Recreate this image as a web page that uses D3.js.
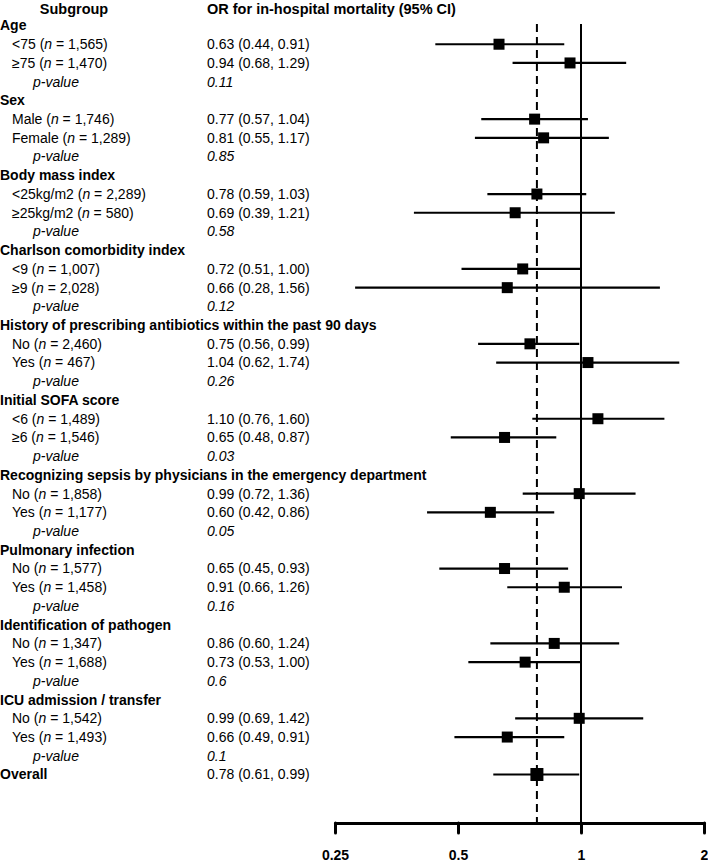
<!DOCTYPE html>
<html>
<head>
<meta charset="utf-8">
<script src="https://cdn.jsdelivr.net/npm/d3@7"></script>
<style>
  body { margin: 0; background: #fff; }
  svg { display: block; font-family: "Liberation Sans", Arial, sans-serif; }
</style>
</head>
<body>
<div class="chart"></div>
<script>
const width = 708, height = 866;

// data
const groups = ['Age', 'Sex', 'Body mass index', 'Charlson comorbidity index',
  'History of prescribing antibiotics within the past 90 days', 'Initial SOFA score',
  'Recognizing sepsis by physicians in the emergency department', 'Pulmonary infection',
  'Identification of pathogen', 'ICU admission / transfer'];
const subLabels = [['<75', '≥75'], ['Male', 'Female'], ['<25kg/m2', '≥25kg/m2'], ['<9', '≥9'],
  ['No', 'Yes'], ['<6', '≥6'], ['No', 'Yes'], ['No', 'Yes'], ['No', 'Yes'], ['No', 'Yes']];
const nValues = [['1,565', '1,470'], ['1,746', '1,289'], ['2,289', '580'], ['1,007', '2,028'],
  ['2,460', '467'], ['1,489', '1,546'], ['1,858', '1,177'], ['1,577', '1,458'],
  ['1,347', '1,688'], ['1,542', '1,493']];
const orValues = [[0.63, 0.94], [0.77, 0.81], [0.78, 0.69], [0.72, 0.66], [0.75, 1.04],
  [1.10, 0.65], [0.99, 0.60], [0.65, 0.91], [0.86, 0.73], [0.99, 0.66]];
const lowerCI = [[0.44, 0.68], [0.57, 0.55], [0.59, 0.39], [0.51, 0.28], [0.56, 0.62],
  [0.76, 0.48], [0.72, 0.42], [0.45, 0.66], [0.60, 0.53], [0.69, 0.49]];
const upperCI = [[0.91, 1.29], [1.04, 1.17], [1.03, 1.21], [1.00, 1.56], [0.99, 1.74],
  [1.60, 0.87], [1.36, 0.86], [0.93, 1.26], [1.24, 1.00], [1.42, 0.91]];
const pValues = ['0.11', '0.85', '0.58', '0.12', '0.26', '0.03', '0.05', '0.16', '0.6', '0.1'];
const overall = {label: 'Overall', or: 0.78, lo: 0.61, hi: 0.99};
const xTicks = [0.25, 0.5, 1, 2];

// flatten into rows
const rows = [];
groups.forEach((g, i) => {
  rows.push({type: 'group', label: g});
  subLabels[i].forEach((s, j) => {
    rows.push({type: 'sub', label: s, n: nValues[i][j],
      or: orValues[i][j], lo: lowerCI[i][j], hi: upperCI[i][j]});
  });
  rows.push({type: 'p', p: pValues[i]});
});
rows.push({type: 'overall', label: overall.label, or: overall.or, lo: overall.lo, hi: overall.hi});
rows.forEach((r, i) => r.idx = i);

const fmt = d3.format('.2f');

let svg = d3.select('.chart').append('svg')
  .attr('width', width)
  .attr('height', height);

let x = d3.scaleLog().base(2)
  .domain([0.25, 2])
  .range([335, 704]);

let y = d3.scaleLinear()
  .domain([0, rows.length - 1])
  .range([25.5, 774.5]);

const axisY = 823;
const lineTop = 24;

// headers
svg.append('text')
  .attr('x', 74).attr('y', 9).attr('dy', '0.35em')
  .attr('text-anchor', 'middle')
  .attr('font-size', 14.5).attr('font-weight', 700)
  .text('Subgroup');

svg.append('text')
  .attr('x', 207).attr('y', 9).attr('dy', '0.35em')
  .attr('font-size', 14.5).attr('font-weight', 700)
  .text('OR for in-hospital mortality (95% CI)');

// left text
let labels = svg.append('g').attr('font-size', 14);

labels.selectAll('text.lab')
  .data(rows)
  .join('text')
  .attr('class', 'lab')
  .attr('x', d => d.type === 'sub' ? 12 : d.type === 'p' ? 33 : 0)
  .attr('y', d => y(d.idx))
  .attr('dy', '0.35em')
  .attr('font-weight', d => (d.type === 'group' || d.type === 'overall') ? 700 : 400)
  .attr('font-style', d => d.type === 'p' ? 'italic' : 'normal')
  .each(function(d) {
    const t = d3.select(this);
    if (d.type === 'sub') {
      t.append('tspan').text(d.label + ' (');
      t.append('tspan').attr('font-style', 'italic').text('n');
      t.append('tspan').text(' = ' + d.n + ')');
    } else if (d.type === 'p') {
      t.text('p-value');
    } else {
      t.text(d.label);
    }
  });

labels.selectAll('text.val')
  .data(rows.filter(d => d.type !== 'group'))
  .join('text')
  .attr('class', 'val')
  .attr('x', 207)
  .attr('y', d => y(d.idx))
  .attr('dy', '0.35em')
  .attr('font-style', d => d.type === 'p' ? 'italic' : 'normal')
  .text(d => d.type === 'p' ? d.p : `${fmt(d.or)} (${fmt(d.lo)}, ${fmt(d.hi)})`);

// reference lines
svg.append('line')
  .attr('x1', x(1)).attr('x2', x(1))
  .attr('y1', lineTop).attr('y2', axisY)
  .attr('stroke', 'black').attr('stroke-width', 2);

svg.append('line')
  .attr('x1', x(overall.or)).attr('x2', x(overall.or))
  .attr('y1', lineTop).attr('y2', axisY)
  .attr('stroke', 'black').attr('stroke-width', 2)
  .attr('stroke-dasharray', '8,5');

// CI lines and squares
let marks = rows.filter(d => d.or !== undefined);

svg.append('g')
  .selectAll('line')
  .data(marks)
  .join('line')
  .attr('x1', d => x(d.lo))
  .attr('x2', d => x(d.hi))
  .attr('y1', d => y(d.idx))
  .attr('y2', d => y(d.idx))
  .attr('stroke', 'black')
  .attr('stroke-width', 2.2);

svg.append('g')
  .selectAll('rect')
  .data(marks)
  .join('rect')
  .attr('x', d => x(d.or) - (d.type === 'overall' ? 6.5 : 5.5))
  .attr('y', d => y(d.idx) - (d.type === 'overall' ? 6.5 : 5.5))
  .attr('width', d => d.type === 'overall' ? 13 : 11)
  .attr('height', d => d.type === 'overall' ? 13 : 11)
  .attr('fill', 'black');

// x axis
let xAxis = d3.axisBottom(x)
  .tickValues(xTicks)
  .tickFormat(d => d)
  .tickSize(10)
  .tickSizeOuter(0)
  .tickPadding(17);

svg.append('g')
  .attr('transform', `translate(0, ${axisY})`)
  .call(xAxis)
  .call(g => g.select('.domain')
    .attr('stroke-width', 3)
    .attr('stroke-linecap', 'round'))
  .call(g => g.selectAll('.tick line')
    .attr('stroke-width', 3)
    .attr('stroke-linecap', 'round'))
  .call(g => g.selectAll('.tick text')
    .attr('font-family', '"Liberation Sans", Arial, sans-serif')
    .attr('font-size', 14)
    .attr('font-weight', 700)
    .attr('fill', 'black'));
</script>
</body>
</html>
